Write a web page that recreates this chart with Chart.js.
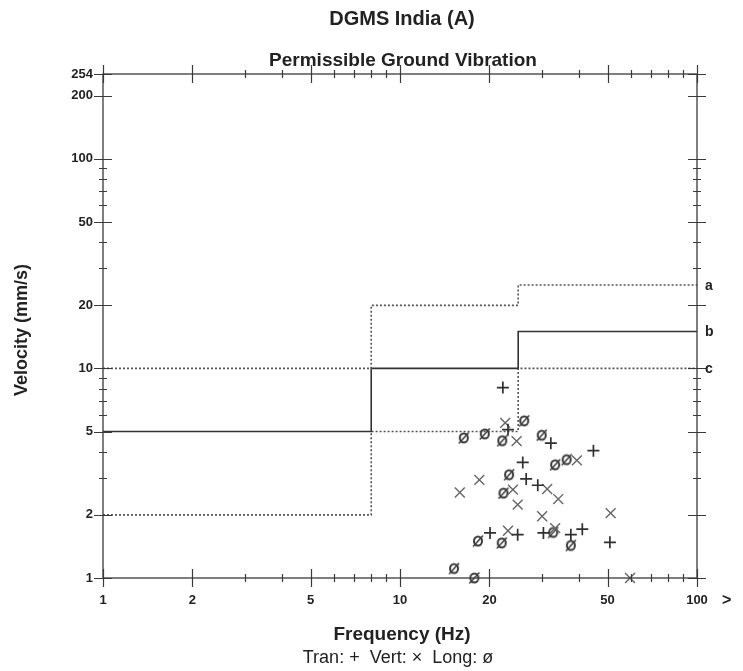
<!DOCTYPE html>
<html>
<head>
<meta charset="utf-8">
<script src="https://cdn.jsdelivr.net/npm/chart.js@4.4.1/dist/chart.umd.min.js"></script>
<style>
    html, body {
        margin: 0;
        padding: 0;
        background: #ffffff;
    }

    #wrap {
        width: 743px;
        height: 671px;
        position: relative;
    }
</style>
</head>
<body>
<div id="wrap">
    <canvas id="grafico"></canvas>
</div>
<script>

// limits (DGMS), break frequencies in Hz
const freqBreaks = [1, 8, 25, 100];

const limitA = [10, 20, 25];
const limitB = [5, 10, 15];
const limitC = [2, 5, 10];

const limitNames = ["a", "b", "c"];

// measured events
const tranFreq = [22.2, 23.1, 32.2, 44.8, 25.9, 26.6, 29.1, 20.1, 24.9, 30.4, 37.6, 41.1, 50.9];
const tranVel = [8.1, 5.1, 4.4, 4.05, 3.56, 2.97, 2.77, 1.64, 1.61, 1.64, 1.61, 1.71, 1.48];

const vertFreq = [22.6, 24.7, 39.4, 18.5, 31.3, 24.0, 15.9, 34.1, 24.9, 30.1, 51.2, 23.1, 33.3, 59.5];
const vertVel = [5.5, 4.5, 3.64, 2.94, 2.66, 2.64, 2.56, 2.38, 2.24, 1.97, 2.04, 1.68, 1.73, 1.0];

const longFreq = [16.4, 19.3, 22.1, 26.2, 30.0, 33.3, 36.4, 23.3, 22.3, 18.3, 22.0, 32.8, 37.6, 15.2, 17.8];
const longVel = [4.66, 4.87, 4.52, 5.62, 4.8, 3.47, 3.67, 3.11, 2.54, 1.5, 1.47, 1.65, 1.43, 1.11, 1.0];

// axes
const xTicks = [1, 2, 5, 10, 20, 50, 100];
const xMinor = [3, 4, 6, 7, 8, 9, 30, 40, 60, 70, 80, 90];

const yTicks = [1, 2, 5, 10, 20, 50, 100, 200, 254];
const yMinor = [3, 4, 6, 7, 8, 9, 30, 40, 60, 70, 80, 90];

const FONTE = "'Liberation Sans', Arial, sans-serif";

function pontosDegrau(limites) {

    return freqBreaks.map((f, i) => ({
        x: f,
        y: limites[Math.min(i, limites.length - 1)]
    }));
}

function pontos(xs, ys) {

    return xs.map((x, i) => ({ x, y: ys[i] }));
}

function marcadorLong() {

    const c = document.createElement("canvas");

    c.width = 16;
    c.height = 16;

    const ctx = c.getContext("2d");

    ctx.strokeStyle = "#3a3a3a";
    ctx.lineWidth = 2;

    ctx.beginPath();
    ctx.ellipse(8, 8, 4, 4.6, 0, 0, Math.PI * 2);
    ctx.stroke();

    ctx.lineWidth = 1.5;
    ctx.beginPath();
    ctx.moveTo(3, 13.5);
    ctx.lineTo(13, 2.5);
    ctx.stroke();

    return c;
}

function linhaLimite(limites, dash, cor) {

    return {
        type: "line",
        data: pontosDegrau(limites),
        stepped: "before",
        showLine: true,
        borderColor: cor,
        borderWidth: 1.6,
        borderDash: dash,
        pointRadius: 0,
        fill: false,
        order: 5
    };
}

const eixosPlugin = {

    id: "eixosPlugin",

    afterDraw(chart) {

        const { ctx, chartArea: a, scales } = chart;
        const sx = scales.x;
        const sy = scales.y;

        ctx.save();

        ctx.strokeStyle = "#3a3a3a";
        ctx.lineWidth = 1.3;
        ctx.strokeRect(a.left, a.top, a.right - a.left, a.bottom - a.top);

        function marcaX(v, len) {

            const px = Math.round(sx.getPixelForValue(v)) + 0.5;

            ctx.beginPath();
            ctx.moveTo(px, a.bottom - len);
            ctx.lineTo(px, a.bottom + len);
            ctx.moveTo(px, a.top - len);
            ctx.lineTo(px, a.top + len);
            ctx.stroke();
        }

        function marcaY(v, len) {

            const py = Math.round(sy.getPixelForValue(v)) + 0.5;

            ctx.beginPath();
            ctx.moveTo(a.left - len, py);
            ctx.lineTo(a.left + len, py);
            ctx.moveTo(a.right - len, py);
            ctx.lineTo(a.right + len, py);
            ctx.stroke();
        }

        ctx.lineWidth = 1.2;

        xTicks.forEach(v => marcaX(v, 9));
        xMinor.forEach(v => marcaX(v, 4));

        yTicks.forEach(v => marcaY(v, 9));
        yMinor.forEach(v => marcaY(v, 4));

        // textos
        ctx.fillStyle = "#222";
        ctx.textAlign = "center";
        ctx.textBaseline = "middle";

        const cx = (a.left + a.right) / 2;

        ctx.font = "bold 20px " + FONTE;
        ctx.fillText("DGMS India (A)", cx + 2, 19);

        ctx.font = "bold 19px " + FONTE;
        ctx.fillText("Permissible Ground Vibration", cx + 3, 61);

        ctx.font = "bold 19px " + FONTE;
        ctx.fillText("Frequency (Hz)", cx + 2, 635);

        ctx.font = "18px " + FONTE;
        ctx.fillText("Tran: +  Vert: \u00d7  Long: \u00f8", cx - 2, 658);

        ctx.save();
        ctx.translate(22, 330);
        ctx.rotate(-Math.PI / 2);
        ctx.font = "bold 18px " + FONTE;
        ctx.fillText("Velocity (mm/s)", 0, 0);
        ctx.restore();

        ctx.font = "bold 14px " + FONTE;
        ctx.textAlign = "left";

        [limitA, limitB, limitC].forEach((lim, i) => {

            const py = sy.getPixelForValue(lim[lim.length - 1]);

            ctx.fillText(limitNames[i], a.right + 8, py + 1);
        });

        ctx.font = "bold 16px " + FONTE;
        ctx.fillText(">", a.right + 25, 601);

        ctx.restore();
    }
};

new Chart(
    document.getElementById("grafico"),
    {
        type: "scatter",

        data: {

            datasets: [
                linhaLimite(limitA, [2, 2], "#555"),
                linhaLimite(limitB, [], "#333"),
                linhaLimite(limitC, [2, 2], "#555"),
                {
                    label: "Tran",
                    data: pontos(tranFreq, tranVel),
                    pointStyle: "cross",
                    pointRadius: 6,
                    pointBorderWidth: 1.7,
                    borderColor: "#303030",
                    backgroundColor: "#303030",
                    clip: false,
                    order: 1
                },
                {
                    label: "Vert",
                    data: pontos(vertFreq, vertVel),
                    pointStyle: "crossRot",
                    pointRadius: 7,
                    pointBorderWidth: 1.4,
                    borderColor: "#666",
                    backgroundColor: "#666",
                    clip: false,
                    order: 2
                },
                {
                    label: "Long",
                    data: pontos(longFreq, longVel),
                    pointStyle: marcadorLong(),
                    pointRadius: 6,
                    clip: false,
                    order: 3
                }
            ]
        },

        options: {

            responsive: true,
            maintainAspectRatio: false,
            animation: false,

            layout: {
                padding: { top: 74, right: 46, left: 0, bottom: 0 }
            },

            plugins: {
                legend: { display: false },
                tooltip: { enabled: false }
            },

            scales: {

                x: {
                    type: "logarithmic",
                    min: 1,
                    max: 100,
                    afterBuildTicks: s => {
                        s.ticks = xTicks.map(v => ({ value: v }));
                    },
                    afterFit: s => {
                        s.height = 93;
                    },
                    grid: { display: false, drawTicks: false },
                    border: { display: false },
                    ticks: {
                        autoSkip: false,
                        maxRotation: 0,
                        padding: 15,
                        color: "#222",
                        font: { family: FONTE, size: 13, weight: "bold" },
                        callback: v => String(v)
                    }
                },

                y: {
                    type: "logarithmic",
                    min: 1,
                    max: 254,
                    afterBuildTicks: s => {
                        s.ticks = yTicks.map(v => ({ value: v }));
                    },
                    afterFit: s => {
                        s.width = 103;
                    },
                    grid: { display: false, drawTicks: false },
                    border: { display: false },
                    ticks: {
                        autoSkip: false,
                        padding: 10,
                        color: "#222",
                        font: { family: FONTE, size: 13, weight: "bold" },
                        callback: v => String(v)
                    }
                }
            }
        },

        plugins: [eixosPlugin]
    }
);
</script>
</body>
</html>
